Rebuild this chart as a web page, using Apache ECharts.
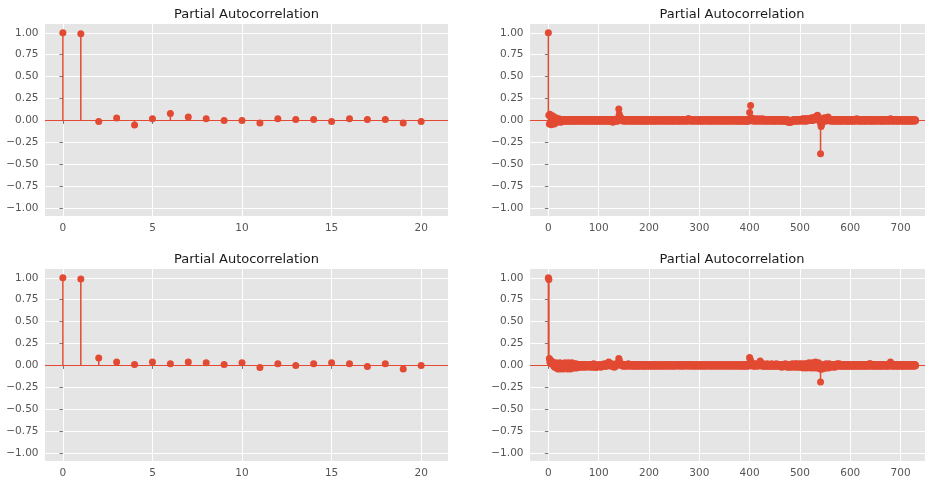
<!DOCTYPE html>
<html>
<head>
<meta charset="utf-8">
<script src="https://cdn.jsdelivr.net/npm/echarts@6/dist/echarts.min.js"></script>
<style>
html,body{margin:0;padding:0;background:#fff;overflow:hidden;}
#chart{width:945px;height:483px;}
</style>
</head>
<body>
<div id="chart"></div>
<script>
// ---- data ----
const titleText = 'Partial Autocorrelation';
const shortLags = [0,1,2,3,4,5,6,7,8,9,10,11,12,13,14,15,16,17,18,19,20];
const pacfTopLeft = [1.00,0.99,-0.011,0.027,-0.053,0.019,0.08,0.038,0.019,0.0,0.0,-0.03,0.019,0.011,0.011,-0.011,0.019,0.011,0.011,-0.03,-0.011];
const pacfBottomLeft = [1.00,0.985,0.084,0.038,0.011,0.038,0.019,0.038,0.03,0.011,0.03,-0.023,0.019,0.0,0.019,0.03,0.019,-0.011,0.019,-0.042,0.0];

// long PACF (lags 0..730), values in hundredths
const pacfTopRightPct = [
100,6,-4,7,-3,6,-5,4,-2,5,-3,3,-4,2,-2,3,-1,2,-2,1,
-1,2,-1,0,1,-2,1,0,-1,1,0,-1,1,-1,0,1,-1,0,1,-1,
0,1,-1,1,0,-1,0,1,-1,0,1,0,-1,0,1,-1,0,0,1,-1,
0,1,0,-1,1,0,-1,0,1,0,-1,1,0,0,-1,1,0,-1,0,1,
-1,0,1,0,-1,0,1,-1,0,1,0,-1,1,0,-1,0,1,0,-1,0,
1,-1,0,1,0,-1,0,1,-1,0,1,0,-1,1,0,-1,0,1,0,-1,
0,1,-1,0,1,-1,0,1,-2,0,1,-1,0,1,-1,0,2,-1,1,0,
13,7,4,2,3,1,2,0,1,-1,1,0,1,-1,0,1,0,-1,1,0,
0,1,-1,0,1,0,-1,0,1,0,-1,0,1,-1,0,1,0,-1,0,1,
0,-1,1,0,0,-1,1,0,-1,0,1,0,0,-1,1,0,-1,0,1,0,
-1,0,1,0,-1,1,0,0,-1,0,1,0,-1,0,1,-1,0,0,1,0,
0,-1,0,1,0,-1,0,1,0,0,-1,1,0,-1,0,1,0,0,-1,0,
1,0,-1,0,1,0,0,-1,1,0,-1,0,0,1,0,-1,0,1,0,-1,
0,1,0,-1,0,0,1,0,-1,1,0,0,-1,0,1,0,-1,1,2,2,
1,1,0,-1,0,1,0,-1,0,0,1,0,-1,0,1,0,0,-1,0,1,
0,-1,1,0,0,-1,0,1,0,-1,0,0,1,0,-1,0,1,0,0,-1,
1,0,-1,0,0,1,0,-1,1,0,0,-1,0,1,0,-1,0,0,1,0,
-1,0,1,0,0,-1,1,0,-1,0,1,0,0,-1,0,1,0,-1,0,1,
0,0,-1,1,0,-1,0,1,0,0,-1,0,1,0,-1,1,0,0,-1,0,
1,0,-1,0,1,-1,0,1,0,-1,0,1,-1,0,1,0,-1,-1,0,1,
9,2,17,3,1,2,0,1,-1,2,1,0,1,-1,2,0,1,0,-1,1,
2,0,1,-1,1,0,2,0,-1,1,0,1,-1,0,1,0,-1,1,0,0,
1,-1,0,1,0,-1,1,0,0,-1,1,0,-1,0,1,0,1,-1,0,1,
0,-1,0,1,0,-1,1,0,-1,0,1,0,-1,-1,0,1,-1,-2,-1,-2,
-2,-1,-2,-1,0,-1,0,1,0,-1,0,1,-1,0,1,0,-1,1,0,1,
0,1,-1,1,0,2,0,1,-1,2,1,0,2,-1,1,2,0,1,2,0,
1,2,0,3,1,2,0,3,1,2,4,1,3,2,5,6,3,4,2,1,
-2,-38,-7,-5,-2,1,-1,2,0,3,1,-1,2,0,3,1,4,2,0,1,
1,-1,0,1,0,-1,1,0,0,-1,1,0,-1,0,1,0,-1,1,0,0,
-1,1,0,-1,0,1,0,-1,0,1,0,0,-1,1,0,-1,0,1,0,-1,
0,1,-1,0,1,0,-1,1,0,0,-1,1,1,2,1,0,-1,0,1,0,
-1,0,1,0,-1,1,0,0,-1,1,0,-1,0,1,1,0,-1,0,1,0,
-1,1,0,0,-1,1,0,-1,0,1,0,0,-1,0,1,0,-1,0,1,0,
0,-1,1,0,-1,0,1,0,-1,0,0,1,0,-1,1,0,0,-1,1,0,
2,1,0,-1,0,1,0,-1,0,1,0,0,-1,1,0,-1,0,1,0,0,
-1,0,1,0,-1,1,0,0,-1,0,1,0,-1,0,1,0,-1,1,0,0,
-1,1,0,-1,0,1,0,0,-1,1,0
];
const pacfBottomRightPct = [
100,98,8,4,6,2,5,3,4,1,3,-1,2,-2,1,3,-3,-1,2,-4,
1,-3,-2,3,-4,0,2,-3,-1,2,-4,1,-2,3,-3,0,-2,2,-4,1,
3,-3,-1,2,-4,0,-2,3,-3,1,-2,2,-3,0,-1,2,-3,1,-2,0,
1,-2,0,1,-1,-2,0,1,-1,0,-2,1,0,-1,1,-2,0,1,-1,0,
-1,1,0,-2,1,-1,0,1,-2,0,2,1,-1,-2,1,-2,-2,-1,0,-1,
0,1,-1,0,-2,1,0,-1,1,0,-1,2,0,-1,1,0,-1,2,1,3,
4,3,2,0,1,-1,2,0,-1,1,0,-2,1,0,-1,2,0,1,2,3,
8,6,3,2,1,2,0,1,-1,1,0,1,-1,0,1,0,-1,1,0,2,
1,0,-1,1,0,1,0,-1,0,1,0,-1,1,0,0,-1,1,0,-1,0,
1,0,-1,0,1,0,0,-1,1,0,-1,0,1,0,-1,0,1,0,0,-1,
0,1,0,-1,1,0,0,-1,0,1,0,-1,0,1,0,0,-1,1,0,0,
-1,0,1,0,0,-1,0,1,0,-1,0,0,1,0,-1,0,1,0,0,-1,
0,1,0,0,-1,1,0,0,-1,0,1,0,0,-1,0,1,0,0,1,0,
-1,0,1,0,0,-1,0,1,0,0,-1,0,1,0,0,1,0,-1,0,1,
1,0,0,-1,0,1,0,0,-1,0,1,0,0,-1,0,1,0,0,-1,0,
1,0,0,-1,0,1,0,0,-1,0,1,0,0,-1,0,0,1,0,0,-1,
0,1,0,0,-1,0,1,0,0,-1,0,1,0,0,-1,0,0,1,0,0,
-1,0,1,0,0,-1,0,1,0,0,-1,0,0,1,0,0,-1,0,1,0,
0,-1,0,1,0,0,-1,0,1,0,0,-1,0,1,0,0,-1,0,1,0,
0,-1,1,0,0,-1,0,1,0,-1,0,1,0,-1,0,1,0,-1,1,0,
9,7,5,2,3,1,0,-1,1,2,0,-1,1,0,2,1,-1,0,1,2,
3,5,3,1,0,-1,1,2,0,-1,1,0,-1,1,0,2,-1,0,1,-1,
0,1,-1,0,2,-1,0,1,-1,0,1,-1,0,2,0,-1,1,0,-1,1,
0,-1,1,0,-2,1,0,-1,1,-1,0,2,-1,0,1,-2,0,1,-1,-2,
0,-1,1,-2,0,2,-1,0,1,-2,1,2,-1,0,2,-2,1,0,-2,1,
2,-1,0,-2,1,2,-3,0,1,-2,2,-1,0,-3,2,1,-2,0,3,-2,
1,-3,2,0,-2,3,1,-3,0,2,-2,4,1,-3,2,0,-2,3,-1,-3,
-4,-19,-4,-3,-2,-4,1,-2,-3,0,-1,-3,2,-2,-1,1,-3,0,2,-1,
0,-1,1,-2,0,1,-1,0,1,-2,0,1,-1,0,2,-1,0,1,2,0,
-1,1,0,-1,0,1,-1,0,1,0,-1,0,1,-1,0,1,0,-1,0,1,
0,-1,1,0,-1,0,1,0,-1,1,0,-1,0,1,0,-1,1,0,0,-1,
1,0,-1,0,1,0,-1,1,0,0,-1,1,0,-1,0,1,0,-1,2,1,
2,1,0,-1,1,0,-1,0,1,0,-1,1,0,0,-1,1,0,-1,0,1,
0,-1,1,0,-1,0,1,1,0,-1,0,1,0,-1,1,0,0,-1,1,2,
4,2,1,0,-1,1,0,-1,0,1,0,0,-1,1,0,-1,0,1,0,0,
-1,1,0,0,-1,1,0,-1,0,1,0,0,-1,1,0,-1,0,1,0,0,
-1,0,1,0,-1,1,0,0,-1,1,0
];
const yTicks = [-1,-0.75,-0.5,-0.25,0,0.25,0.5,0.75,1];
const xTicksShort = [0,5,10,15,20];
const xTicksLong = [0,100,200,300,400,500,600,700];

// ---- styles ----
const RED = '#E24A33';
const FONT = 'DejaVu Sans';
const LABEL = '#555555';

const toPairs = (xs, ys) => ys.map((v, i) => [xs[i], v]);
const longPairs = pct => pct.map((v, i) => [i, v / 100]);

const panels = [
  {left: 45, top: 24, width: 403, data: toPairs(shortLags, pacfTopLeft), xmin: -1, xmax: 21.5, xt: xTicksShort, sym: 7},
  {left: 530, top: 24, width: 404, data: longPairs(pacfTopRightPct), xmin: -36.5, xmax: 766.5, xt: xTicksLong, sym: 7},
  {left: 45, top: 269, width: 403, data: toPairs(shortLags, pacfBottomLeft), xmin: -1, xmax: 21.5, xt: xTicksShort, sym: 7},
  {left: 530, top: 269, width: 404, data: longPairs(pacfBottomRightPct), xmin: -36.5, xmax: 766.5, xt: xTicksLong, sym: 7}
];

const fmtY = v => (v < 0 ? '\u2212' : '') + Math.abs(v).toFixed(2);

const option = {
  animation: false,
  backgroundColor: '#ffffff',
  textStyle: {fontFamily: FONT},
  grid: panels.map(p => ({left: p.left, top: p.top, width: p.width, height: 192, show: true, backgroundColor: '#E5E5E5', borderWidth: 0, containLabel: false})),
  xAxis: panels.map((p, i) => ({
    type: 'value', gridIndex: i, min: p.xmin, max: p.xmax,
    axisLine: {show: false},
    axisTick: {show: true, length: 3.5, lineStyle: {color: LABEL, width: 0.8}, customValues: p.xt},
    axisLabel: {show: true, customValues: p.xt, color: LABEL, fontSize: 10.5, fontFamily: FONT, margin: 6.5},
    splitLine: {show: true, lineStyle: {color: '#ffffff', width: 1}}
  })),
  yAxis: panels.map((p, i) => ({
    type: 'value', gridIndex: i, min: -1.09, max: 1.1,
    axisLine: {show: false},
    axisTick: {show: true, length: 3.5, lineStyle: {color: LABEL, width: 0.8}, customValues: yTicks},
    axisLabel: {show: true, customValues: yTicks, color: LABEL, fontSize: 10.5, fontFamily: FONT, margin: 6.5, formatter: fmtY},
    splitLine: {show: true, lineStyle: {color: '#ffffff', width: 1}}
  })),
  graphic: panels.map(p => ({
    type: 'text', x: p.left + p.width / 2, y: p.top - 9.5,
    style: {text: titleText, fill: '#1a1a1a', font: '13px "DejaVu Sans"', align: 'center', verticalAlign: 'middle'}
  })),
  series: []
};

panels.forEach((p, i) => {
  option.series.push({
    type: 'custom', xAxisIndex: i, yAxisIndex: i, data: p.data, silent: true, z: 2,
    renderItem: function (params, api) {
      const a = api.coord([api.value(0), 0]);
      const b = api.coord([api.value(0), api.value(1)]);
      return {type: 'line', shape: {x1: a[0], y1: a[1], x2: b[0], y2: b[1]}, style: {stroke: RED, lineWidth: 1.5}};
    }
  });
  option.series.push({
    type: 'scatter', xAxisIndex: i, yAxisIndex: i, data: p.data, silent: true, z: 3,
    symbol: 'circle', symbolSize: p.sym, itemStyle: {color: RED, opacity: 1},
    markLine: {silent: true, symbol: ['none', 'none'], label: {show: false},
      lineStyle: {color: RED, width: 1.2, type: 'solid'}, data: [{yAxis: 0}]}
  });
});

const chart = echarts.init(document.getElementById('chart'), null, {renderer: 'canvas'});
chart.setOption(option);
</script>
</body>
</html>
